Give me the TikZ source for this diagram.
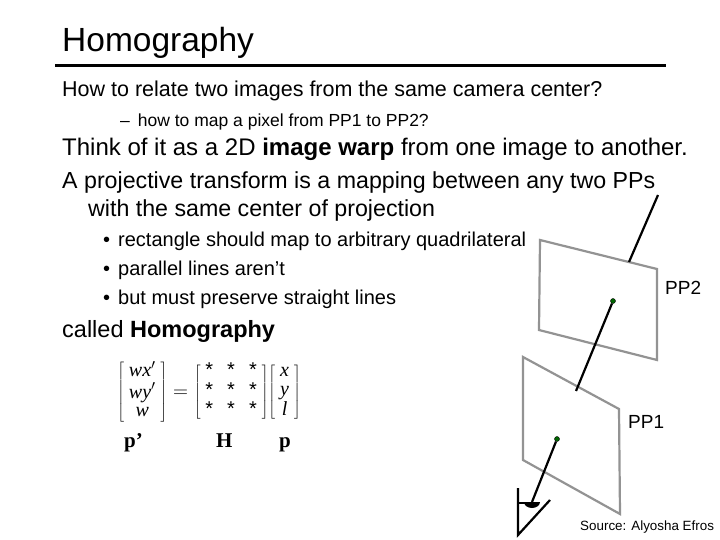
\documentclass[tikz,border=0pt]{standalone}
\usepackage{fontspec}
\setmainfont{Liberation Sans}
\newfontfamily\serf{Liberation Serif}
\begin{document}
\begin{tikzpicture}[x=1pt,y=-1pt,
  txt/.style={anchor=base west,inner sep=0pt},
  plane/.style={draw=gray!85,line width=2.2pt},
  ray/.style={line width=2.2pt},
  gdot/.style={circle,fill=green!40!black,draw=black,inner sep=0pt,minimum size=5pt}]
\useasboundingbox (0,0) rectangle (720,540);
\node[txt,font=\fontsize{33.5}{34}\selectfont] (title) at (62,52) {Homography};
\coordinate (l1) at (55,66); \coordinate (l2) at (666,66);
\draw[line width=3pt] (l1) -- (l2);
\node[txt,font=\fontsize{21.5}{22}\selectfont] (q) at (62,97) {How to relate two images from the same camera center?};
\node[txt,font=\fontsize{17.5}{18}\selectfont] (q2) at (120,127) {–\hspace{8pt}how to map a pixel from PP1 to PP2?};
\node[txt,font=\fontsize{24}{24}\selectfont] (t1) at (62,156) {Think of it as a 2D \textbf{image warp} from one image to another.};
\node[txt,font=\fontsize{23.2}{24}\selectfont] (t2) at (62,189) {A projective transform is a mapping between any two PPs};
\node[txt,font=\fontsize{23.2}{24}\selectfont] (t3) at (88,217) {with the same center of projection};
\foreach \y/\s [count=\i] in {247/rectangle should map to arbitrary quadrilateral,275/parallel lines aren’t,304/but must preserve straight lines}{
  \node[txt,font=\fontsize{20}{20}\selectfont] (b\i) at (103,\y) {•\hspace{8pt}\s};}
\node[txt,font=\fontsize{23.5}{24}\selectfont] (hom) at (62,337) {called \textbf{Homography}};
\node[anchor=center,inner sep=0pt,font=\serf\fontsize{20}{21}\selectfont] (mat) at (209,392)
 {\renewcommand{\arraystretch}{0.9}$\left[\begin{array}{c}\textit{wx}'\\ \textit{wy}'\\ \textit{w}\end{array}\right]
  = \left[\begin{array}{c@{\hspace{14pt}}c@{\hspace{14pt}}c}\textrm{*}&\textrm{*}&\textrm{*}\\ \textrm{*}&\textrm{*}&\textrm{*}\\ \textrm{*}&\textrm{*}&\textrm{*}\end{array}\right]\!
  \left[\begin{array}{c}\textit{x}\\ \textit{y}\\ \textit{l}\end{array}\right]$};
\node[txt,font=\serf\bfseries\fontsize{21}{21}\selectfont] (pp) at (124,447) {p’};
\node[txt,font=\serf\bfseries\fontsize{21}{21}\selectfont] (H) at (216,447) {H};
\node[txt,font=\serf\bfseries\fontsize{21}{21}\selectfont] (p) at (279,447) {p};
% planes
\draw[plane] (540,240) -- (657,269) -- (657,360) -- (539,330) -- cycle;
\draw[plane] (523,357) -- (619,409) -- (620,514) -- (523,460) -- cycle;
\node[txt,font=\fontsize{19}{19}\selectfont] (pp2) at (665,294) {PP2};
\node[txt,font=\fontsize{19}{19}\selectfont] (pp1) at (628,428) {PP1};
% rays
\coordinate (top1) at (658,195); \coordinate (top2) at (629,262);
\draw[ray] (top1) -- (top2);
\node[gdot] (d2) at (613,301) {};
\coordinate (m1) at (576,391);
\draw[ray] (d2) -- (m1);
\node[gdot] (d1) at (557,439) {};
\coordinate (eye) at (532,502);
\draw[ray] (d1) -- (eye);
% eye
\coordinate (e1) at (518,488); \coordinate (e2) at (518,535); \coordinate (e3) at (550,500);
\draw[line width=2.2pt] (e1) -- (e2) -- (e3);
\draw[line width=2pt] (518,503) -- (528,503);
\fill (524,502) arc[start angle=180,end angle=360,x radius=8,y radius=-6] -- cycle;
\node[txt,font=\fontsize{13.4}{14}\selectfont] (src) at (580,530) {Source: Alyosha Efros};
\end{tikzpicture}
\end{document}
